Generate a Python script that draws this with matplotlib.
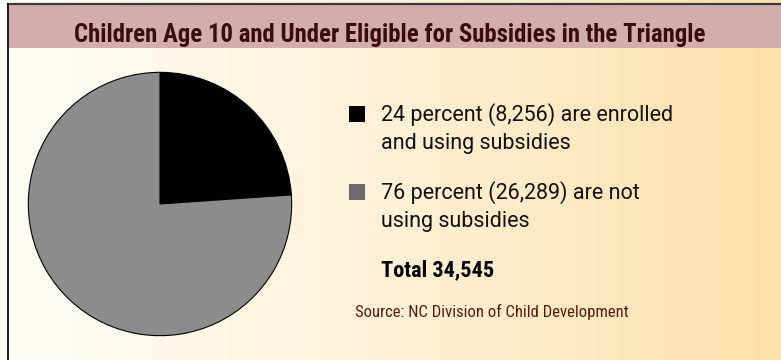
import numpy as np
import matplotlib.pyplot as plt
from matplotlib import font_manager
from matplotlib.colors import LinearSegmentedColormap
from matplotlib.patches import Rectangle

# enrolled vs. not enrolled
labels = [["24 percent (8,256) are enrolled", "and using subsidies"],
          ["76 percent (26,289) are not", "using subsidies"]]
counts = [8256, 26289]
total_label = "Total 34,545"
title = "Children Age 10 and Under Eligible for Subsidies in the Triangle"
source = "Source: NC Division of Child Development"

slice_colors = ["#000000", "#8c8c8c"]
key_colors = ["#000000", "#6b6b6b"]

installed = {f.name for f in font_manager.fontManager.ttflist}
narrow = next((n for n in ["Roboto Condensed", "Liberation Sans Narrow", "Arial Narrow"]
               if n in installed), "Roboto")
is_narrow = narrow != "Roboto"

W, H = 781, 360
fig = plt.figure(figsize=(W / 100, H / 100), dpi=100)

# background: white-to-peach horizontal gradient
bg = fig.add_axes([0, 0, 1, 1])
grad = np.linspace(0, 1, 256).reshape(1, -1)
cmap = LinearSegmentedColormap.from_list("peach", ["#fffdf8", "#fff1d6", "#fde0ab"])
bg.imshow(grad, aspect="auto", cmap=cmap, extent=[0, W, 0, H])
bg.set_xlim(0, W)
bg.set_ylim(H, 0)
bg.axis("off")

# title bar and frame lines
bg.add_patch(Rectangle((7, 3), W - 7, 44.5, facecolor="#d1adad", edgecolor="none"))
bg.plot([7.5, W], [3.5, 3.5], color="#3a3a3a", lw=1.6)
bg.plot([7.5, 7.5], [3.5, H], color="#1a1a1a", lw=1.4)
bg.text(390, 42, title, ha="center", va="baseline",
        fontsize=17.8 if is_narrow else 14.2, fontweight="bold",
        color="#3c0c0c", family=narrow)

# pie
ax = fig.add_axes([27 / W, 23 / H, 266 / W, 266 / H])
ax.pie(counts, colors=slice_colors, startangle=90, counterclock=False,
       wedgeprops=dict(edgecolor="black", linewidth=0.8))
ax.set_xlim(-1.01, 1.01)
ax.set_ylim(-1.01, 1.01)
ax.set_aspect("equal")
ax.axis("off")

# key
key_tops = [106, 184]
for top, color, lines in zip(key_tops, key_colors, labels):
    bg.add_patch(Rectangle((349, top), 16, 16, facecolor=color, edgecolor="none"))
    for i, line in enumerate(lines):
        bg.text(381, top + 15 + i * 28.5, line, ha="left", va="baseline",
                fontsize=15.5, color="#111111", family="Roboto")

bg.text(381, 276, total_label, ha="left", va="baseline",
        fontsize=16 if is_narrow else 14.5, fontweight="bold",
        color="#000000", family=narrow)
bg.text(355, 317, source, ha="left", va="baseline",
        fontsize=12 if is_narrow else 11.5,
        color="#5a1a10", family=narrow)

fig.savefig("out.png", dpi=100)
